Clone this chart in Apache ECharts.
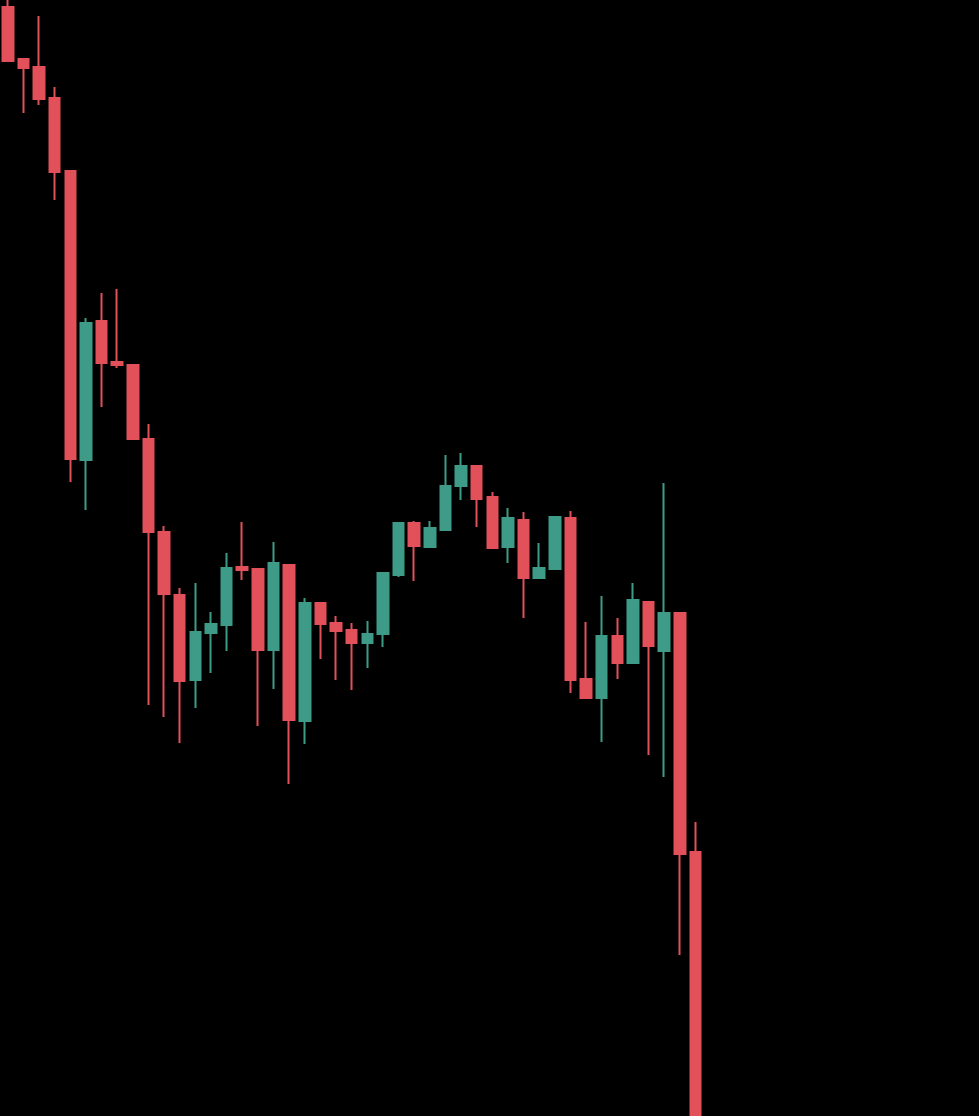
<!DOCTYPE html>
<html>
<head>
<meta charset="utf-8">
<script src="https://cdn.jsdelivr.net/npm/echarts@6/dist/echarts.min.js"></script>
<style>
html,body{margin:0;padding:0;background:#000;}
#chart{width:979px;height:1116px;}
</style>
</head>
<body>
<div id="chart"></div>
<script>
// Session periods (62 slots; the last ones are still empty)
const categories = Array.from({length: 62}, (_, i) => 'P' + (i + 1));

const opens  = [149.3,144.1,143.3,140.2,132.9,104.0,117.9,113.8,113.5,106.1,96.8,90.5,82.0,86.7,87.5,93.3,93.1,85.0,93.5,77.9,89.7,87.7,87.0,85.7,86.6,92.5,97.7,95.3,97.0,101.4,103.4,100.3,95.3,98.0,92.2,93.1,98.2,82.1,80.2,86.4,83.7,89.8,84.9,88.7,64.8];
const closes = [143.9,143.2,140.1,132.8,104.1,117.7,113.7,113.5,106.1,96.8,90.6,81.9,86.8,87.6,93.2,93.0,85.0,93.7,78.0,89.7,87.6,86.9,85.7,86.6,92.7,97.7,95.4,97.2,101.4,103.4,100.1,95.2,98.2,92.2,93.2,98.3,82.0,80.2,86.4,83.7,90.0,85.4,88.7,64.6,37.0];
const lows   = [143.9,138.7,139.5,130.0,101.8,99.0,109.3,113.2,106.1,79.5,78.3,75.7,79.2,82.7,84.9,92.0,77.4,81.1,71.6,75.6,84.1,82.0,81.0,83.2,85.3,92.3,91.9,95.3,97.0,100.0,97.3,95.2,93.7,88.2,92.2,93.1,80.7,80.2,75.8,82.1,83.7,74.5,72.3,54.5,36.0];
const highs  = [151.5,144.1,148.4,141.3,133.0,118.2,120.7,121.1,113.5,107.6,97.4,91.2,91.7,88.8,94.7,97.8,93.1,95.8,93.5,90.2,89.7,88.4,87.7,87.9,92.8,97.7,97.9,97.9,104.5,104.7,103.4,100.8,99.2,98.8,95.7,98.3,98.9,87.8,90.4,88.2,91.7,89.8,101.7,88.7,67.8];

const ohlc = opens.map((o, i) => [o, closes[i], lows[i], highs[i]]);

const upColor = '#3d9b87';
const downColor = '#e2515a';

const chart = echarts.init(document.getElementById('chart'), null, {renderer: 'canvas'});
chart.setOption({
  backgroundColor: '#000000',
  animation: false,
  grid: {left: -2.5, right: 10, top: 0, bottom: 0, containLabel: false},
  xAxis: {
    type: 'category',
    data: categories,
    boundaryGap: true,
    show: false
  },
  yAxis: {
    type: 'value',
    min: 38.4,
    max: 150,
    show: false,
    splitLine: {show: false}
  },
  series: [{
    type: 'candlestick',
    data: ohlc,
    barWidth: 11,
    clip: true,
    itemStyle: {
      color: upColor,
      color0: downColor,
      borderColor: upColor,
      borderColor0: downColor,
      borderWidth: 2
    }
  }]
});
</script>
</body>
</html>
